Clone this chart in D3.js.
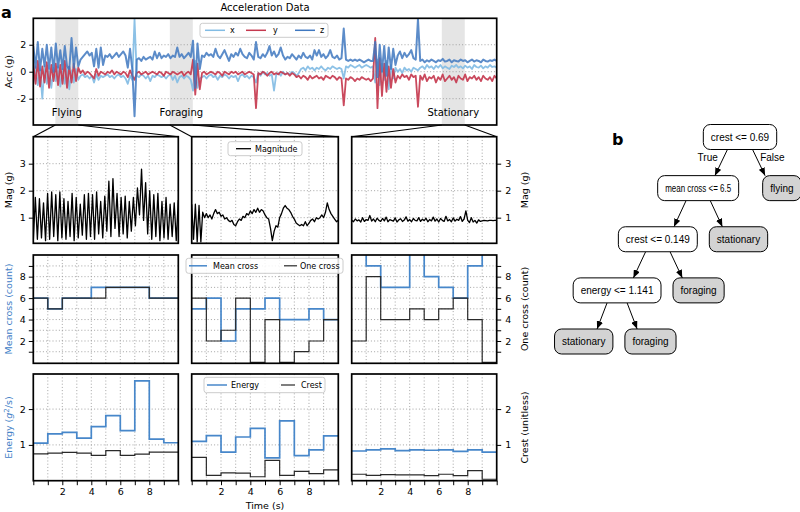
<!DOCTYPE html>
<html><head><meta charset="utf-8">
<script src="https://cdn.jsdelivr.net/npm/d3@7/dist/d3.min.js"></script>
<style>
body{margin:0;background:#fff;}
</style></head>
<body>
<svg id="chart" width="800" height="512" style="font-family:'DejaVu Sans',sans-serif"></svg>
<script>
// ================= DATA =================
// Panel a (top): acceleration, one sample per second
const accX = [-0.8,0.4,-1.0,0.2,-2.0,0.5,-0.9,0.1,-1.2,0.3,-0.7,0.4,-1.1,0.2,-0.9,0.3,-1.3,0.1,-0.8,0.2,-0.6,
 -0.3,-0.2,-0.4,-0.3,-0.5,-0.3,-0.8,-0.2,-0.6,-0.3,-0.4,-0.3,-0.2,-0.4,-0.3,-0.5,-0.3,-0.2,-0.4,-0.3,-0.5,-0.9,-0.3,-0.6,
 3.9,
 -0.3,-0.4,-0.2,-0.3,-0.5,-0.3,-0.7,-0.3,-0.4,-0.2,-0.3,-0.4,-0.3,-0.5,-0.3,-0.2,-0.6,-0.3,-0.8,-0.4,-0.3,-0.5,-0.3,-0.4,-0.6,
 -1.4,0.8,-1.2,-0.5,
 -0.4,-0.3,-0.5,-0.3,-0.2,-0.4,-0.3,-0.6,-0.3,-0.4,-0.2,-0.3,-0.5,-0.3,-0.4,-0.3,-0.7,-0.3,-0.2,-0.4,-0.3,-0.5,-0.3,-0.4,
 -0.8,
 -0.1,-0.3,0.0,-0.2,-0.1,-0.3,-0.2,-1.4,-0.2,-0.1,-0.3,0.0,-0.2,-0.1,-0.2,0.0,-0.1,-0.3,-0.1,0.2,0.3,0.1,0.4,0.2,0.3,0.1,0.3,0.2,0.4,0.2,0.1,0.3,0.2,0.4,0.3,0.2,0.3,0.2,
 -0.5,
 0.4,0.3,0.5,0.4,0.3,0.4,0.5,0.3,0.4,0.5,0.4,0.3,0.4,
 -0.8,0.9,-1.0,0.6,-0.6,0.8,-1.3,0.5,-0.5,0.3,
 0.0,0.2,-0.1,0.3,0.1,0.2,0.0,0.3,0.2,
 0.1,
 0.3,0.4,0.2,0.5,0.3,0.4,0.2,0.45,0.3,0.5,0.25,0.4,0.3,0.2,0.45,0.35,0.5,0.3,0.4,0.25,0.45,0.3,0.4,0.2,0.5,0.35,0.3,0.45,0.25,0.4,0.3,0.5,0.35,0.4,0.3];
const accY = [0.6,-0.9,0.8,-1.1,0.4,-0.8,0.7,-1.2,0.5,-0.7,0.6,-1.0,0.5,-0.9,0.8,-1.2,0.4,-0.8,0.6,-0.7,0.3,
 -0.1,0.1,-0.2,0.0,-0.1,-0.3,-0.5,0.2,-0.3,0.0,-0.1,-0.2,0.0,-0.1,0.1,-0.2,0.0,-0.1,-0.2,0.0,-0.1,-0.4,0.1,-0.3,
 -0.6,
 -0.1,0.0,-0.2,-0.1,0.0,-0.2,-0.1,0.0,-0.1,-0.2,0.0,-0.1,-0.3,0.0,-0.1,-0.2,0.0,-0.1,-0.2,-0.1,0.0,-0.3,-0.1,0.0,-0.2,
 0.9,-1.7,0.6,-1.3,
 -0.1,0.0,-0.2,-0.1,0.0,-0.1,-0.2,0.0,-0.1,-0.3,0.0,-0.1,-0.2,0.0,-0.1,0.0,-0.2,-0.1,0.0,-0.2,-0.1,0.0,-0.1,-0.2,
 -2.7,
 -0.1,-0.2,0.0,-0.1,-0.3,-0.1,0.0,-0.2,-0.1,-0.2,0.0,-0.1,-0.2,-0.1,-0.3,-0.1,-0.2,-0.4,-0.3,-0.5,-0.3,-0.4,-0.6,-0.3,-0.5,-0.4,-0.3,-0.5,-0.4,-0.6,-0.3,-0.4,-0.5,-0.3,-0.4,-0.6,-0.4,-0.5,
 -2.5,
 -0.5,-0.6,-0.4,-0.5,-0.7,-0.5,-0.6,-0.4,-0.5,-0.6,-0.5,-0.7,-0.5,
 2.5,-2.7,1.0,-1.8,0.6,-1.5,0.4,-1.2,0.2,-0.8,
 -0.3,-0.5,-0.2,-0.4,-0.3,-0.6,-0.2,-0.4,-0.3,
 -2.6,
 -0.3,-0.6,-0.2,-0.7,-0.4,-0.5,-0.3,-0.8,-0.4,-0.6,-0.2,-0.7,-0.5,-0.3,-0.6,-0.4,-0.8,-0.3,-0.5,-0.6,-0.2,-0.7,-0.4,-0.5,-0.3,-0.6,-0.4,-0.7,-0.3,-0.5,-0.6,-0.4,-0.7,-0.3,-0.5];
const accZ = [1.9,0.3,2.2,0.1,1.7,0.4,2.0,0.2,1.8,0.0,2.1,0.3,1.6,0.2,1.9,0.4,0.2,2.5,0.3,1.8,0.4,
 0.9,1.1,1.3,1.5,1.2,1.4,
 0.4,1.7,0.3,1.8,0.5,
 1.2,1.1,1.3,1.0,1.2,1.4,1.1,1.3,1.5,1.2,
 0.3,1.7,0.2,
 -3.3,
 0.9,1.0,0.8,1.1,0.9,1.0,1.1,0.9,
 1.5,1.0,1.4,
 1.0,1.2,1.1,1.3,1.0,1.2,1.1,
 1.8,
 1.1,1.3,1.0,1.2,1.4,1.1,
 2.3,-1.2,2.1,0.2,
 1.2,1.1,1.4,1.2,1.3,1.1,
 1.7,
 1.2,1.0,1.3,
 1.6,
 1.2,0.8,1.3,1.1,1.4,1.2,
 1.7,
 1.3,1.1,1.0,1.4,1.2,0.9,
 2.2,
 1.1,1.0,1.3,1.1,1.4,
 1.9,
 1.2,1.5,1.1,1.3,
 1.8,
 1.2,0.9,1.1,1.0,1.3,1.1,0.9,1.2,1.0,1.4,1.1,1.0,1.2,0.9,
 1.6,1.2,1.6,
 1.1,1.3,1.0,1.2,
 1.6,
 1.1,1.0,1.2,0.9,1.0,
 3.2,
 0.9,0.8,0.9,0.8,0.9,0.8,0.9,0.8,0.7,0.8,0.9,0.8,0.8,
 2.2,-0.4,2.0,0.0,1.9,-0.3,1.8,0.2,1.7,0.5,
 1.2,1.5,1.0,1.4,1.1,1.3,1.6,1.0,0.9,
 3.9,
 0.8,0.9,0.7,0.85,0.75,0.9,0.8,0.7,0.85,0.8,0.95,0.75,0.8,0.9,0.7,0.85,0.8,0.75,0.9,0.8,0.85,0.7,0.8,0.9,0.75,0.85,0.8,0.7,0.9,0.8,0.75,0.85,0.8,0.9,0.8];
const accSeriesNames = ["x","y","z"];
const accTicks = [-2, 0, 2];
const regionLabels = ["Flying", "Foraging", "Stationary"];
const regionStart = [9.8, 60.7, 181.6];
const regionEnd = [20.0, 70.9, 191.8];

// Magnitude (10 s windows)
const magFlying = [0.15,1.75,0.2,1.7,0.25,1.55,0.15,1.9,0.2,1.95,0.3,1.85,0.15,1.95,0.25,1.7,0.2,1.6,0.3,1.9,0.15,1.75,0.25,1.5,0.35,1.85,0.2,1.9,0.3,1.85,0.2,1.95,0.4,1.6,0.25,1.8,0.5,2.35,0.3,2.45,0.6,1.9,0.3,1.75,0.4,1.8,0.25,1.6,0.5,1.75,0.7,2.1,1.1,2.8,0.9,2.3,0.4,2.0,0.2,1.85,0.3,1.9,0.15,1.6,0.25,1.75,0.2,1.5,0.3,1.55,0.15,1.65];
const magForaging = [1.5,0.2,1.5,0.1,1.45,0.1,1.2,1.0,1.15,1.0,1.1,0.95,1.15,1.3,1.15,1.2,1.05,1.1,0.95,1.0,0.9,0.85,0.9,0.75,0.7,0.85,0.95,0.9,1.05,1.0,1.15,1.1,1.25,1.15,1.3,1.2,1.35,1.2,1.3,1.25,1.1,1.0,0.95,0.6,0.15,0.5,0.7,0.65,1.0,1.15,1.35,1.45,1.35,1.3,1.2,1.05,0.95,0.8,0.75,0.7,0.75,0.7,0.85,0.7,0.8,0.9,0.95,0.85,1.0,0.95,1.0,1.1,1.0,1.2,1.55,1.3,1.15,1.05,0.95,0.85,0.9];
const magStationary = [0.9,0.85,0.95,0.88,0.92,0.84,1.0,0.86,0.93,0.9,1.08,0.87,0.95,0.85,0.98,0.9,0.86,0.97,0.88,1.02,0.85,0.93,0.9,0.87,0.99,0.84,0.92,0.96,0.86,0.91,1.03,0.87,0.93,0.85,0.97,0.9,0.88,1.0,0.86,0.94,0.89,0.98,0.85,0.93,0.88,1.02,0.87,0.95,0.84,0.97,0.9,0.86,1.05,0.88,0.93,0.85,0.99,0.87,0.94,0.9,1.04,0.86,0.95,1.25,0.9,0.82,1.0,0.84,0.9,0.8,0.92,0.86,0.88,0.9,0.89,0.88,0.9,0.9,0.89,0.9,0.9];
const magTicks = [1, 2, 3];

// Crossing counts per 1 s window
const meanCrossFlying = [6,5,6,6,7,7,7,7,6,6];
const oneCrossFlying = [6,5,6,6,6,7,7,7,6,6];
const meanCrossForaging = [5,6,2,5,5,6,4,4,5,4];
const oneCrossForaging = [6,2,3,6,0,4,0,1,2,4];
const meanCrossStationary = [11,9,7,7,11,8,7,6,9,11];
const oneCrossStationary = [2,8,4,4,5,4,5,6,4,0];
const crossTicks = [1,2,3,4,5,6,7,8,9];
const crossTickLabels = [2,4,6,8];

// Energy and crest per 1 s window
const energyFlying = [1.05,1.31,1.35,1.19,1.51,1.82,1.40,2.79,1.16,1.06];
const crestFlying = [0.75,0.77,0.79,0.77,0.71,0.84,0.71,0.74,0.80,0.80];
const energyForaging = [1.10,1.26,0.80,1.22,1.46,0.64,1.67,0.70,0.86,1.25];
const crestForaging = [0.65,0.15,0.22,0.21,0.11,0.57,0.15,0.26,0.20,0.30];
const energyStationary = [0.83,0.86,0.89,0.84,0.86,0.85,0.86,0.82,0.86,0.80];
const crestStationary = [0.18,0.15,0.17,0.16,0.16,0.14,0.18,0.14,0.28,0.04];
const energyTicks = [1, 2];
const timeTicks = [0,1,2,3,4,5,6,7,8,9,10];
const timeTickLabels = [2,4,6,8];

// Panel b: decision tree
const treeLabels = ["crest <= 0.69","mean cross <= 6.5","flying","crest <= 0.149","stationary","energy <= 1.141","foraging","stationary","foraging"];
const treeParent = [null,0,0,1,1,3,3,5,5];
const treeLeaf = [false,false,true,false,true,false,true,true,true];
const edgeLabels = ["True","False"];

// ================= DRAWING =================
const svg = d3.select("#chart");
const COL = {x:"#82bce4", y:"#c5394f", z:"#3f78c0", blue:"#4787ca", label:"#3f80c6", black:"#2a2a2a", grid:"#9a9a9a"};
const SPINE = 1.7;
let clipN = 0;

function makeClip(x0,y0,x1,y1){
  const id = "clip" + (clipN++);
  svg.append("clipPath").attr("id", id).append("rect")
    .attr("x", x0).attr("y", y0).attr("width", x1-x0).attr("height", y1-y0);
  return "url(#" + id + ")";
}
function grid(g, x, y, xv, yv){
  const [xa,xb] = x.range(), [ya,yb] = y.range();
  g.selectAll(null).data(xv).join("line")
    .attr("x1", d=>x(d)).attr("x2", d=>x(d)).attr("y1", ya).attr("y2", yb)
    .attr("stroke", COL.grid).attr("stroke-width", 0.9).attr("stroke-dasharray","1,2.2");
  g.selectAll(null).data(yv).join("line")
    .attr("y1", d=>y(d)).attr("y2", d=>y(d)).attr("x1", xa).attr("x2", xb)
    .attr("stroke", COL.grid).attr("stroke-width", 0.9).attr("stroke-dasharray","1,2.2");
}
function spine(g, x, y){
  const [xa,xb] = x.range(), [ya,yb] = y.range();
  g.append("rect").attr("x", xa).attr("y", yb).attr("width", xb-xa).attr("height", ya-yb)
    .attr("fill","none").attr("stroke","#000").attr("stroke-width", SPINE);
}
function styleAxis(a){
  a.attr("font-family","DejaVu Sans").attr("font-size", 9.5);
  a.select(".domain").remove();
  a.selectAll(".tick line").attr("stroke","#000").attr("stroke-width",1);
  a.selectAll(".tick text").attr("fill","#000");
}
function yLabel(x, y, txt, color){
  return svg.append("text").attr("transform", `translate(${x},${y}) rotate(-90)`)
    .attr("text-anchor","middle").attr("font-size", 9.5).attr("fill", color || "#000").text(txt);
}
function legend(box, items){
  const g = svg.append("g");
  g.append("rect").attr("x", box[0]).attr("y", box[1]).attr("width", box[2]-box[0]).attr("height", box[3]-box[1])
    .attr("rx", 2.5).attr("fill","#fff").attr("fill-opacity",0.85).attr("stroke","#cccccc").attr("stroke-width",1);
  const cy = (box[1]+box[3])/2;
  items.forEach(it=>{
    g.append("line").attr("x1", it.a).attr("x2", it.b).attr("y1", cy).attr("y2", cy)
      .attr("stroke", it.color).attr("stroke-width", it.w || 1.5);
    g.append("text").attr("x", it.t).attr("y", cy + 2.9).attr("font-size", 8).attr("fill","#000").text(it.label);
  });
}
const num = d => String(d);

// ---------- top panel ----------
const xTop = d3.scaleLinear().domain([0, accZ.length-1]).range([33.3, 496.7]);
const yTop = d3.scaleLinear().domain([-3.95, 3.96]).range([125, 18.3]);
const gTop = svg.append("g");
regionLabels.forEach((lab,i)=>{
  gTop.append("rect").attr("x", xTop(regionStart[i])).attr("y", 18.3)
    .attr("width", xTop(regionEnd[i]) - xTop(regionStart[i])).attr("height", 125-18.3).attr("fill","#e5e5e5");
});
grid(gTop, xTop, yTop, [], accTicks);
const clipTop = makeClip(33.3, 18.3, 496.7, 125);
const accLine = d3.line().x((d,i)=>xTop(i)).y(d=>yTop(d));
[accX, accY, accZ].forEach((s,k)=>{
  gTop.append("path").attr("d", accLine(s)).attr("fill","none")
    .attr("stroke", COL[accSeriesNames[k]]).attr("stroke-width", k===2 ? 2.0 : 1.8).attr("stroke-opacity", k===2 ? 0.85 : 0.92)
    .attr("stroke-linejoin","round").attr("clip-path", clipTop);
});
regionLabels.forEach((lab,i)=>{
  gTop.append("text").attr("x", xTop((regionStart[i]+regionEnd[i])/2)).attr("y", 116)
    .attr("text-anchor","middle").attr("font-size",10).text(lab);
});
const axTop = svg.append("g").attr("transform","translate(33.3,0)")
  .call(d3.axisLeft(yTop).tickValues(accTicks).tickSize(4).tickPadding(3).tickFormat(num));
styleAxis(axTop);
spine(gTop, xTop, yTop);
legend([200, 23.3, 328, 37.3], [
  {a:205, b:225, t:230, label:accSeriesNames[0], color:COL.x},
  {a:246, b:266, t:273, label:accSeriesNames[1], color:COL.y},
  {a:295, b:315, t:320, label:accSeriesNames[2], color:COL.z}]);
svg.append("text").attr("x", 265).attr("y", 10.5).attr("text-anchor","middle").attr("font-size",10).text("Acceleration Data");
svg.append("text").attr("x", 1).attr("y", 18).attr("font-size",16).attr("font-weight","bold").text("a");
yLabel(12, 71.7, "Acc (g)");

// ---------- lower panels ----------
const cols = [[33.3,178.3],[191.7,338.3],[351.7,496.7]];
const rowMag = [243.3, 136.7], rowCross = [363.3, 255], rowEnergy = [480.7, 374];

regionLabels.forEach((lab,i)=>{
  [[regionStart[i], cols[i][0]], [regionEnd[i], cols[i][1]]].forEach(([t, px])=>{
    svg.append("line").attr("x1", xTop(t)).attr("y1", 125).attr("x2", px).attr("y2", 136.7)
      .attr("stroke","#000").attr("stroke-width",1.1);
  });
});

const minorT = [1,2,3,4,5,6,7,8,9];
const magData = [magFlying, magForaging, magStationary];
const meanData = [meanCrossFlying, meanCrossForaging, meanCrossStationary];
const oneData = [oneCrossFlying, oneCrossForaging, oneCrossStationary];
const energyData = [energyFlying, energyForaging, energyStationary];
const crestData = [crestFlying, crestForaging, crestStationary];

function stepPath(x, y, vals){
  const pts = vals.concat([vals[vals.length-1]]);
  return d3.line().x((d,i)=>x(i)).y(d=>y(d)).curve(d3.curveStepAfter)(pts);
}

cols.forEach((c, i)=>{
  const x = d3.scaleLinear().domain([0,10]).range(c);
  {
    const y = d3.scaleLinear().domain([0.05, 4.0]).range(rowMag);
    const g = svg.append("g");
    grid(g, x, y, minorT, magTicks);
    const s = magData[i];
    const ln = d3.line().x((d,j)=>x(j*10/(s.length-1))).y(d=>y(d));
    g.append("path").attr("d", ln(s)).attr("fill","none").attr("stroke","#000").attr("stroke-width",1.3)
      .attr("stroke-linejoin","round").attr("clip-path", makeClip(c[0], rowMag[1], c[1], rowMag[0]));
    spine(g, x, y);
    if(i===0){ styleAxis(svg.append("g").attr("transform",`translate(${c[0]},0)`).call(d3.axisLeft(y).tickValues(magTicks).tickFormat(num).tickSize(4.5).tickPadding(3))); }
    if(i===2){ styleAxis(svg.append("g").attr("transform",`translate(${c[1]},0)`).call(d3.axisRight(y).tickValues(magTicks).tickFormat(num).tickSize(4.5).tickPadding(4))); }
  }
  {
    const y = d3.scaleLinear().domain([-0.08, 10.02]).range(rowCross);
    const g = svg.append("g");
    grid(g, x, y, minorT, crossTicks);
    const clip = makeClip(c[0], rowCross[1], c[1], rowCross[0]);
    g.append("path").attr("d", stepPath(x,y,meanData[i])).attr("fill","none").attr("stroke",COL.blue).attr("stroke-width",1.7).attr("clip-path",clip);
    g.append("path").attr("d", stepPath(x,y,oneData[i])).attr("fill","none").attr("stroke",COL.black).attr("stroke-width",1.2).attr("clip-path",clip);
    spine(g, x, y);
    const fmt = d => crossTickLabels.includes(d) ? String(d) : "";
    if(i===0){ styleAxis(svg.append("g").attr("transform",`translate(${c[0]},0)`).call(d3.axisLeft(y).tickValues(crossTicks).tickFormat(fmt).tickSize(4.5).tickPadding(3))); }
    if(i===2){ styleAxis(svg.append("g").attr("transform",`translate(${c[1]},0)`).call(d3.axisRight(y).tickValues(crossTicks).tickFormat(fmt).tickSize(4.5).tickPadding(4))); }
  }
  {
    const y = d3.scaleLinear().domain([0, 2.98]).range(rowEnergy);
    const g = svg.append("g");
    grid(g, x, y, minorT, energyTicks);
    const clip = makeClip(c[0], rowEnergy[1], c[1], rowEnergy[0]);
    g.append("path").attr("d", stepPath(x,y,energyData[i])).attr("fill","none").attr("stroke",COL.blue).attr("stroke-width",1.7).attr("clip-path",clip);
    g.append("path").attr("d", stepPath(x,y,crestData[i])).attr("fill","none").attr("stroke",COL.black).attr("stroke-width",1.2).attr("clip-path",clip);
    spine(g, x, y);
    if(i===0){ styleAxis(svg.append("g").attr("transform",`translate(${c[0]},0)`).call(d3.axisLeft(y).tickValues(energyTicks).tickFormat(num).tickSize(4.5).tickPadding(3))); }
    if(i===2){ styleAxis(svg.append("g").attr("transform",`translate(${c[1]},0)`).call(d3.axisRight(y).tickValues(energyTicks).tickFormat(num).tickSize(4.5).tickPadding(4))); }
    styleAxis(svg.append("g").attr("transform",`translate(0,${rowEnergy[0]})`)
      .call(d3.axisBottom(x).tickValues(timeTicks).tickFormat(d=>timeTickLabels.includes(d)?String(d):"").tickSize(4.5).tickPadding(3)));
  }
});

legend([228, 141.7, 302, 155.7], [{a:236, b:251, t:255, label:"Magnitude", color:"#000", w:1.3}]);
legend([186, 258.3, 343, 273.3], [
  {a:189, b:207, t:213, label:"Mean cross", color:COL.blue},
  {a:284, b:297, t:300, label:"One cross", color:COL.black, w:1.2}]);
legend([204, 377.3, 325, 392.7], [
  {a:207, b:227, t:231, label:"Energy", color:COL.blue},
  {a:281, b:295, t:301, label:"Crest", color:COL.black, w:1.2}]);

yLabel(12, 190, "Mag (g)");
yLabel(12, 309, "Mean cross (count)", COL.label);
{
  const t = svg.append("text").attr("transform", `translate(12,427.5) rotate(-90)`)
    .attr("text-anchor","middle").attr("font-size", 9.5).attr("fill", COL.label);
  t.append("tspan").text("Energy (");
  t.append("tspan").attr("font-style","italic").text("g");
  t.append("tspan").attr("font-size",7).attr("dy",-3.5).text("2");
  t.append("tspan").attr("dy",3.5).text("/s)");
}
yLabel(528, 190, "Mag (g)");
yLabel(528, 309, "One cross (count)");
yLabel(528, 427.5, "Crest (unitless)");
svg.append("text").attr("x", 265).attr("y", 509).attr("text-anchor","middle").attr("font-size",9.5).text("Time (s)");

// ---------- decision tree ----------
const TF = "'Liberation Sans', Arial, Helvetica, sans-serif";
const TFS = 10;
const TEXT_FIT = {"mean cross <= 6.5": 66};   // the reference renders this label condensed
const treeData = treeLabels.map((label,i)=>({id:String(i), parent: treeParent[i]===null ? null : String(treeParent[i]), label, leaf: treeLeaf[i]}));
const root = d3.stratify().id(d=>d.id).parentId(d=>d.parent)(treeData);
const meas = svg.append("text").style("font-family", TF).attr("font-size", TFS);
root.each(n=>{
  meas.text(n.data.label);
  n.tw = TEXT_FIT[n.data.label] || meas.node().getComputedTextLength();
  n.w = n.tw + 15;
});
meas.remove();
d3.tree().nodeSize([1,1]).separation((a,b)=>(a.w+b.w)/2 + 12 + (a.depth===1 ? 12 : 0))(root);
const xT = d3.scaleLinear().domain([0,1]).range([740,741]);
const yT = d3.scaleLinear().domain([0,4]).range([137,341.5]);
const BH = 25;
svg.append("defs").append("marker").attr("id","arr").attr("viewBox","0 0 10 10")
  .attr("refX",10).attr("refY",5).attr("markerWidth",8).attr("markerHeight",6.5)
  .attr("markerUnits","userSpaceOnUse").attr("orient","auto").attr("preserveAspectRatio","none")
  .append("path").attr("d","M0,0L10,5L0,10z").attr("fill","#000");
const gT = svg.append("g");
root.links().forEach(l=>{
  const sx0 = xT(l.source.x), sy0 = yT(l.source.depth), tx0 = xT(l.target.x), ty0 = yT(l.target.depth);
  const sx = sx0 + (tx0-sx0)*0.3, sy = sy0 + BH/2;
  const tx = tx0 - (tx0-sx0)*0.4, ty = ty0 - BH/2;
  gT.append("line").attr("x1",sx).attr("y1",sy).attr("x2",tx).attr("y2",ty)
    .attr("stroke","#000").attr("stroke-width",1).attr("marker-end","url(#arr)");
  if(l.source.depth===0){
    const k = l.source.children.indexOf(l.target);
    const f = 0.29, px = sx + (tx-sx)*f, py = sy + (ty-sy)*f;
    gT.append("text").attr("x", k===0 ? px-6 : px+4).attr("y", py+3.5)
      .attr("text-anchor", k===0 ? "end" : "start").style("font-family",TF).attr("font-size",TFS).text(edgeLabels[k]);
  }
});
root.descendants().forEach(n=>{
  const cx = xT(n.x), cy = yT(n.depth);
  gT.append("rect").attr("x", cx - n.w/2).attr("y", cy - BH/2).attr("width", n.w).attr("height", BH)
    .attr("rx", 7).attr("fill", n.data.leaf ? "#d3d3d3" : "#fff").attr("stroke","#000").attr("stroke-width",1);
  const t = gT.append("text").attr("x", cx).attr("y", cy + 3.6).attr("text-anchor","middle")
    .style("font-family",TF).attr("font-size",TFS).text(n.data.label);
  if(TEXT_FIT[n.data.label]) t.attr("textLength", n.tw).attr("lengthAdjust","spacingAndGlyphs");
});
svg.append("text").attr("x", 612).attr("y", 145).attr("font-size",16).attr("font-weight","bold").text("b");
</script>
</body></html>
